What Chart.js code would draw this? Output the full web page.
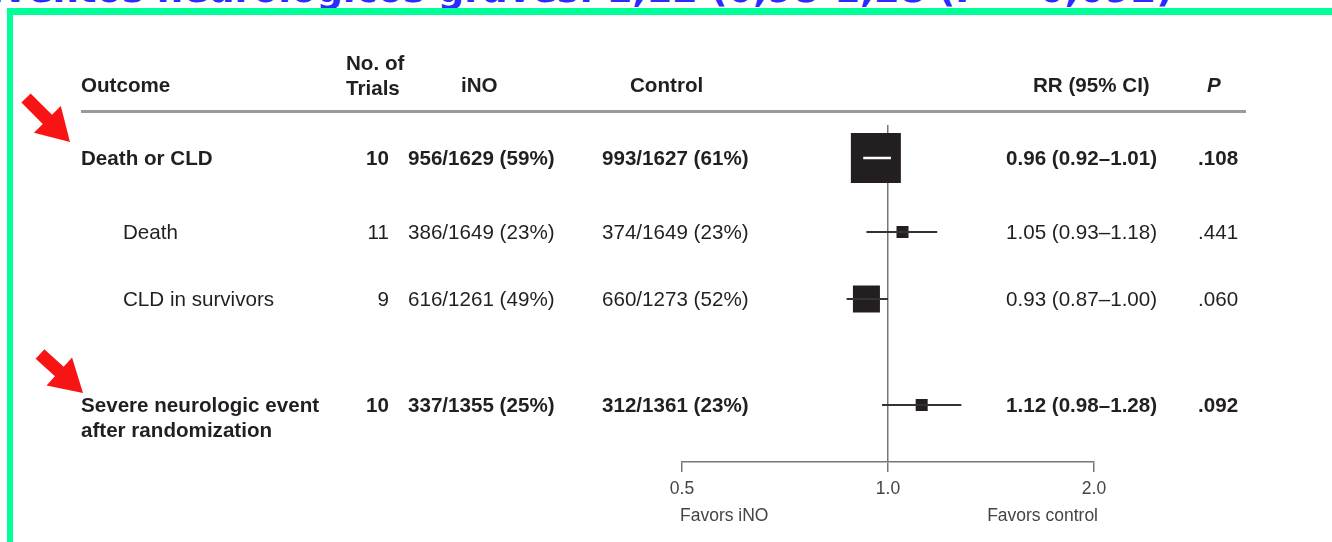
<!DOCTYPE html>
<html>
<head>
<meta charset="utf-8">
<script src="https://cdn.jsdelivr.net/npm/chart.js@4.4.1/dist/chart.umd.min.js"></script>
<style>
  body { margin:0; width:1332px; height:542px; overflow:hidden; background:#fff; position:relative; }
  #wrap { position:absolute; left:0; top:0; width:1332px; height:542px; }
  #frame { position:absolute; left:7px; top:8px; width:1400px; height:600px; border-top:7px solid #00ff99; border-left:6px solid #00ff99; pointer-events:none; }
  #title { position:absolute; left:-22px; top:-29px; font:bold 37px "DejaVu Sans", sans-serif; color:#2b2bff; white-space:nowrap; line-height:1; }
</style>
</head>
<body>
<div id="title">Eventos neurológicos graves: 1,12 (0,98-1,28 (P = 0,092)</div>
<div id="wrap"><canvas id="myChart"></canvas></div>
<div id="frame"></div>
<script>
// table + forest plot values
const outcomes = [['Death or CLD'], ['Death'], ['CLD in survivors'], ['Severe neurologic event', 'after randomization']];
const trials = [10, 11, 9, 10];
const inoEvents = [956, 386, 616, 337];
const inoTotals = [1629, 1649, 1261, 1355];
const inoPercents = [59, 23, 49, 25];
const controlEvents = [993, 374, 660, 312];
const controlTotals = [1627, 1649, 1273, 1361];
const controlPercents = [61, 23, 52, 23];
const rr = [0.96, 1.05, 0.93, 1.12];
const ciLow = [0.92, 0.93, 0.87, 0.98];
const ciHigh = [1.01, 1.18, 1.00, 1.28];
const pValues = ['.108', '.441', '.060', '.092'];
const xTicks = [0.5, 1.0, 2.0];
const favorLabels = ['Favors iNO', 'Favors control'];
const headers = [['Outcome'], ['No. of', 'Trials'], ['iNO'], ['Control'], ['RR (95% CI)'], ['P']];

// layout / style
const rowY = [33, 107, 174, 280];           // px below top of plot area
const boxSizes = [50, 12, 27, 12];
const boldRows = [true, false, false, true];
const indentRows = [false, true, true, false];
const headerX = [81, 346, 461, 630, 1033, 1207];
const ink = '#231f20';
const FONT = '"Liberation Sans", Arial, sans-serif';
const SIZE = '20.6px ';

const fmt = (e, t, p) => `${e}/${t} (${p}%)`;

const tablePlugin = {
  id: 'table',
  afterDraw(chart) {
    const c = chart.ctx;
    const y = chart.scales.y;
    const x = chart.scales.x;
    c.save();
    c.fillStyle = ink;
    c.textBaseline = 'middle';

    // header
    headers.forEach((h, i) => {
      c.font = (i === 5 ? 'italic bold ' : 'bold ') + SIZE + FONT;
      if (h.length === 2) {
        c.fillText(h[0], headerX[i], 64);
        c.fillText(h[1], headerX[i], 89);
      } else {
        c.fillText(h[0], headerX[i], 86);
      }
    });
    c.strokeStyle = '#9a9a9a';
    c.lineWidth = 3;
    c.beginPath();
    c.moveTo(81, 111.5);
    c.lineTo(1246, 111.5);
    c.stroke();

    // rows
    outcomes.forEach((o, i) => {
      const py = y.getPixelForValue(rowY[i]) + 1;
      c.font = (boldRows[i] ? 'bold ' : '') + SIZE + FONT;
      c.textAlign = 'left';
      o.forEach((line, k) => c.fillText(line, indentRows[i] ? 123 : 81, py + k * 25));
      c.textAlign = 'right';
      c.fillText(String(trials[i]), 389, py);
      c.textAlign = 'left';
      c.fillText(fmt(inoEvents[i], inoTotals[i], inoPercents[i]), 408, py);
      c.fillText(fmt(controlEvents[i], controlTotals[i], controlPercents[i]), 602, py);
      c.fillText(`${rr[i].toFixed(2)} (${ciLow[i].toFixed(2)}\u2013${ciHigh[i].toFixed(2)})`, 1006, py);
      c.fillText(pValues[i], 1198, py);
    });

    // favors labels under the axis
    c.fillStyle = '#444';
    c.font = '17.5px ' + FONT;
    c.textAlign = 'left';
    c.fillText(favorLabels[0], x.getPixelForValue(xTicks[0]) - 2, 516);
    c.textAlign = 'right';
    c.fillText(favorLabels[1], x.getPixelForValue(xTicks[2]) + 4, 516);

    // red arrows
    drawArrow(c, 26, 98, 70, 142);
    drawArrow(c, 40, 354, 83, 393);
    c.restore();
  }
};

function drawArrow(c, x0, y0, x1, y1) {
  const len = Math.hypot(x1 - x0, y1 - y0);
  const ux = (x1 - x0) / len, uy = (y1 - y0) / len;
  const nx = -uy, ny = ux;
  const sw = 6.5, hw = 19, hl = 32;
  const bx = x1 - ux * hl, by = y1 - uy * hl;
  c.fillStyle = '#f81414';
  c.beginPath();
  c.moveTo(x0 + nx * sw, y0 + ny * sw);
  c.lineTo(bx + nx * sw, by + ny * sw);
  c.lineTo(bx + nx * hw, by + ny * hw);
  c.lineTo(x1, y1);
  c.lineTo(bx - nx * hw, by - ny * hw);
  c.lineTo(bx - nx * sw, by - ny * sw);
  c.lineTo(x0 - nx * sw, y0 - ny * sw);
  c.closePath();
  c.fill();
}

const ciSets = rr.map((v, i) => ({
  type: 'line',
  data: [{ x: ciLow[i], y: rowY[i] }, { x: ciHigh[i], y: rowY[i] }],
  borderColor: i === 0 ? '#ffffff' : '#333333',
  borderWidth: i === 0 ? 2.5 : 2,
  pointRadius: 0,
  order: 0
}));

const boxSet = {
  type: 'scatter',
  data: rr.map((v, i) => ({ x: v, y: rowY[i] })),
  pointStyle: 'rect',
  pointRadius: boxSizes.map(s => s / Math.SQRT2),
  backgroundColor: ink,
  borderWidth: 0,
  order: 1
};

const ctx = document.getElementById('myChart');
new Chart(ctx, {
  data: { datasets: [...ciSets, boxSet] },
  options: {
    responsive: true,
    maintainAspectRatio: false,
    animation: false,
    layout: { padding: { left: 682, right: 238, top: 125, bottom: 0 } },
    plugins: { legend: { display: false }, tooltip: { enabled: false } },
    scales: {
      x: {
        type: 'logarithmic',
        min: 0.5,
        max: 2,
        afterBuildTicks: s => { s.ticks = xTicks.map(v => ({ value: v })); },
        afterFit: s => { s.height = 80; },
        ticks: {
          callback: v => Number(v).toFixed(1),
          font: { size: 17.5, family: FONT },
          color: '#444',
          padding: 7,
          maxRotation: 0,
          autoSkip: false
        },
        grid: {
          color: c => (c.tick && c.tick.value === 1 ? '#777' : 'rgba(0,0,0,0)'),
          tickColor: '#777',
          tickLength: 10,
          lineWidth: 1.5
        },
        border: { color: '#777', width: 1.5 }
      },
      y: { type: 'linear', min: 0, max: 337, reverse: true, display: false }
    }
  },
  plugins: [tablePlugin]
});
</script>
</body>
</html>
